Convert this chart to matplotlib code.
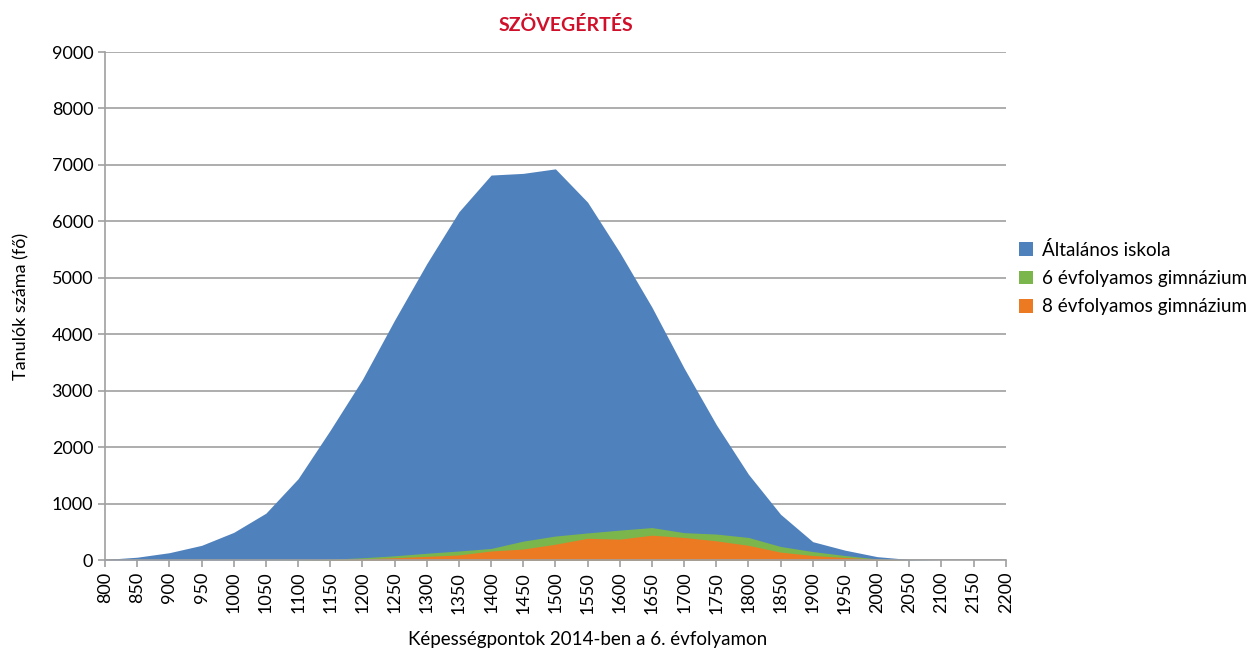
import matplotlib.pyplot as plt
import numpy as np

plt.rcParams['font.family'] = ['Lato', 'DejaVu Sans']

points = np.arange(800, 2201, 50)
altalanos = [10, 50, 130, 260, 490, 830, 1440, 2300, 3200, 4250, 5250, 6170, 6820, 6850, 6930,
             6340, 5450, 4480, 3400, 2400, 1520, 810, 325, 175, 60, 10, 0, 0, 0]
hat_evf = [0, 0, 0, 0, 0, 0, 5, 15, 40, 75, 120, 160, 205, 335, 425,
           480, 530, 575, 485, 460, 400, 240, 150, 80, 20, 0, 0, 0, 0]
nyolc_evf = [0, 0, 0, 0, 0, 0, 0, 5, 20, 40, 65, 90, 160, 195, 280,
             385, 370, 440, 400, 340, 260, 140, 80, 45, 15, 0, 0, 0, 0]

labels = ["Általános iskola", "6 évfolyamos gimnázium", "8 évfolyamos gimnázium"]
colors = ["#4F81BD", "#7BB64D", "#EC7A23"]

fig = plt.figure(figsize=(12.58, 6.55), dpi=100)
ax = fig.add_axes([0.0835, 0.145, 0.716, 0.7756])

for vals, lab, col in zip([altalanos, hat_evf, nyolc_evf], labels, colors):
    ax.fill_between(points, 0, vals, color=col, linewidth=0, label=lab, zorder=2)

ax.set_xlim(800, 2200)
ax.set_ylim(0, 9000)
ax.set_xticks(points)
ax.set_xticklabels([str(p) for p in points], rotation=90, fontsize=13)
ax.set_yticks(np.arange(0, 9001, 1000))
ax.tick_params(axis='y', labelsize=13, length=5, color='#A0A0A0', width=1.2)
ax.tick_params(axis='x', length=5, color='#A0A0A0', width=1.2)
ax.grid(axis='y', color='#A0A0A0', linewidth=1.2, zorder=1)
ax.set_axisbelow(True)
for side in ['top', 'right']:
    ax.spines[side].set_visible(False)
for side in ['left', 'bottom']:
    ax.spines[side].set_color('#A0A0A0')
    ax.spines[side].set_linewidth(1.2)
    ax.spines[side].set_zorder(3)

fig.text(588 / 1258, 1 - 640 / 655, "Képességpontok 2014-ben a 6. évfolyamon", fontsize=13.5,
         ha='center', va='center')
ax.set_ylabel("Tanulók száma (fő)", fontsize=13, labelpad=16)
fig.text(566 / 1258, 0.962, "SZÖVEGÉRTÉS", color="#D0102A", fontsize=14, fontweight='bold',
         ha='center', va='center')

ax.legend(loc='center left', bbox_to_anchor=(0.996, 0.555), frameon=False, fontsize=13.6,
          handlelength=0.75, handleheight=0.75, handletextpad=0.45, labelspacing=0.6)

fig.savefig("out.png", dpi=100)
